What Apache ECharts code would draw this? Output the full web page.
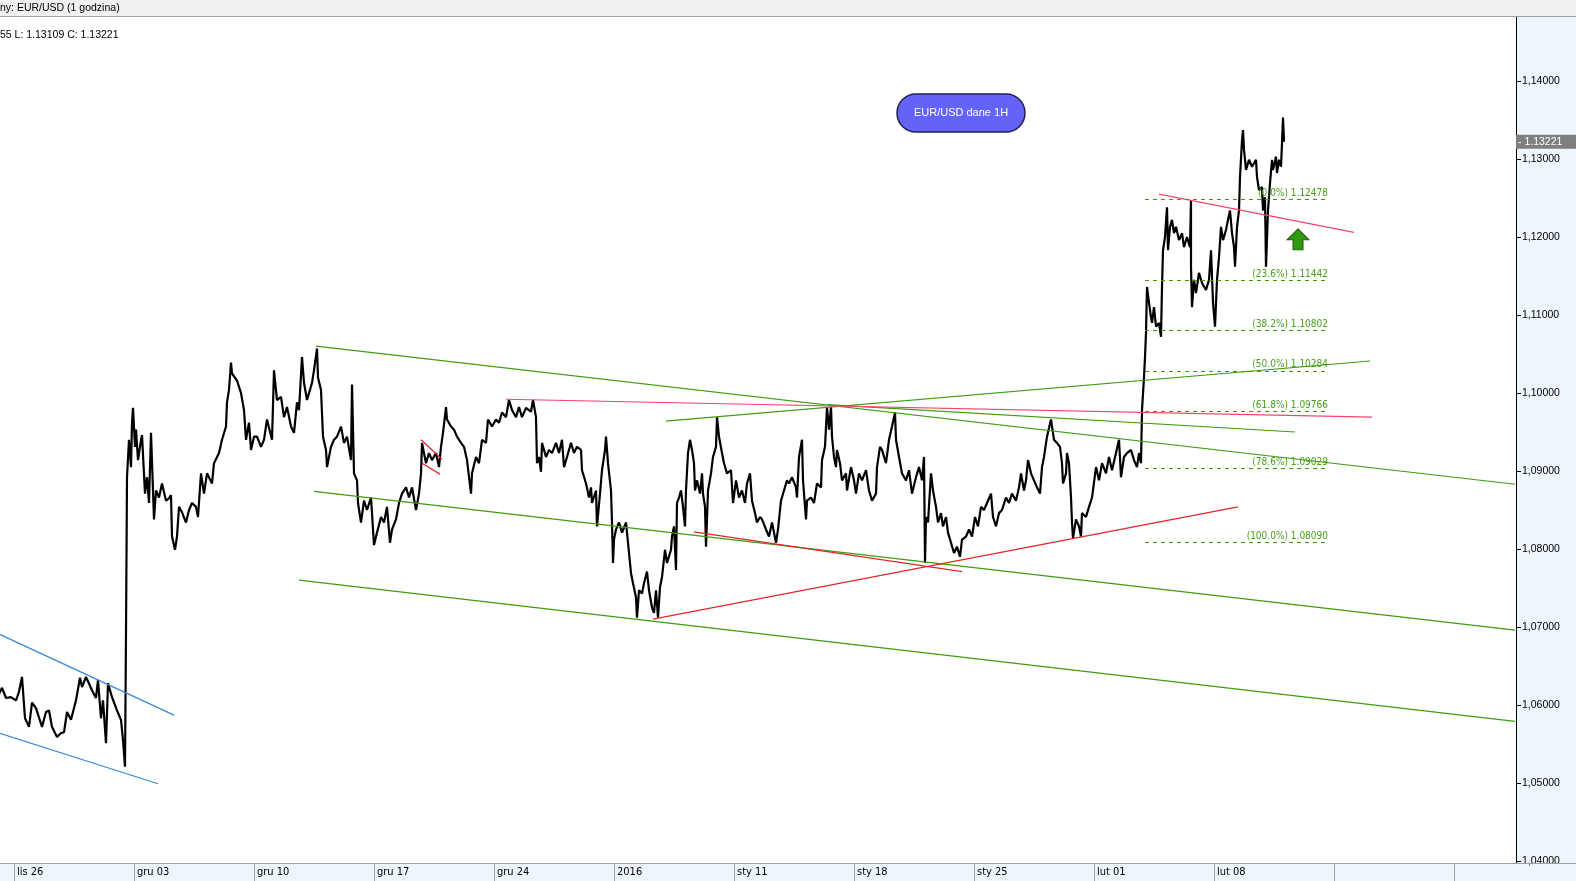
<!DOCTYPE html>
<html><head><meta charset="utf-8">
<script src="https://cdn.jsdelivr.net/npm/echarts@6/dist/echarts.min.js"></script>
<style>html,body{margin:0;padding:0;background:#fff}#c{width:1576px;height:881px}</style>
</head><body><div id="c"></div>
<script>
// ---- axis ticks / labels ----
const weekTicks = [0,120,240,360,480,600,720,840,960,1080,1200,1320,1440];
const weekLabels = ['lis 26','gru 03','gru 10','gru 17','gru 24','2016','sty 11','sty 18','sty 25','lut 01','lut 08','',''];
const priceTicks = [1.04,1.05,1.06,1.07,1.08,1.09,1.10,1.11,1.12,1.13,1.14];

// ---- EUR/USD 1H path: [bar index, price] ----
const eurusd = [
[-15,1.0614],[-12,1.0622],[-8,1.0609],[-3,1.0610],[2,1.0606],[5,1.0617],[8,1.0636],[11,1.0583],[15,1.0572],[18,1.0603],[22,1.0596],[25,1.0584],[28,1.0572],[32,1.0591],[35,1.0593],[38,1.0572],[43,1.0559],[47,1.0564],[50,1.0565],[53,1.0591],[57,1.0581],[62,1.0606],[66,1.0635],[68,1.0623],[72,1.0636],[78,1.0619],[82,1.0609],[84,1.0632],[87,1.0583],[89,1.0606],[92,1.0551],[94,1.0628],[98,1.0610],[103,1.0593],[107,1.0581],[109,1.0555],[111,1.0521],[112,1.0693],[113,1.0892],[115,1.0940],[117,1.0905],[118,1.0962],[119,1.0981],[121,1.0931],[122,1.0953],[124,1.0914],[127,1.0940],[128,1.0946],[131,1.0871],[133,1.0892],[135,1.0859],[137,1.0949],[138,1.0950],[140,1.0838],[142,1.0875],[145,1.0866],[148,1.0884],[152,1.0862],[155,1.0865],[157,1.0869],[158,1.0816],[161,1.0799],[163,1.0816],[165,1.0854],[168,1.0847],[172,1.0834],[175,1.0850],[178,1.0859],[182,1.0854],[184,1.0841],[187,1.0897],[190,1.0871],[193,1.0897],[198,1.0884],[200,1.0910],[205,1.0923],[208,1.0940],[212,1.0957],[213,1.0988],[215,1.1004],[217,1.1039],[218,1.1025],[223,1.1016],[227,1.1000],[230,1.0978],[232,1.0940],[235,1.0962],[237,1.0927],[240,1.0944],[243,1.0944],[247,1.0931],[250,1.0940],[253,1.0966],
[258,1.0940],[260,1.1029],[263,1.0991],[267,1.0995],[270,1.0969],[273,1.0982],[277,1.0957],[280,1.0949],[283,1.0988],[285,1.0978],[288,1.1046],[290,1.1013],[293,1.0991],[298,1.1013],[300,1.1029],[303,1.1057],[304,1.1020],[307,1.1004],[309,1.0944],[312,1.0927],[313,1.0905],[317,1.0931],[320,1.0940],[323,1.0944],[327,1.0957],[330,1.0936],[333,1.0944],[337,1.0914],[338,1.1011],[340,1.0897],[343,1.0888],[344,1.0859],[347,1.0834],[350,1.0862],[353,1.0850],[357,1.0866],[360,1.0805],[363,1.0821],[367,1.0841],[370,1.0834],[373,1.0854],[376,1.0808],[378,1.0825],[382,1.0838],[385,1.0859],[388,1.0871],[392,1.0879],[395,1.0866],[398,1.0879],[402,1.0850],[405,1.0871],[407,1.0897],[408,1.0936],[412,1.0910],[415,1.0923],[418,1.0914],[422,1.0923],[425,1.0905],[427,1.0931],[429,1.0949],[432,1.0982],[433,1.0966],[437,1.0957],[440,1.0953],[443,1.0944],[447,1.0936],[450,1.0931],[453,1.0914],[457,1.0871],[458,1.0897],[462,1.0918],[465,1.0910],[468,1.0940],[472,1.0936],[474,1.0966],[478,1.0957],[482,1.0966],[485,1.0962],[488,1.0975],[492,1.0969],[495,1.0991],[498,1.0978],[502,1.0969],[505,1.0982],[508,1.0969],[512,1.0981],[517,1.0976],[519,1.0991],[522,1.0969],
[523,1.0910],[525,1.0918],[527,1.0899],[528,1.0936],[532,1.0918],[535,1.0927],[538,1.0923],[542,1.0936],[545,1.0923],[548,1.0940],[550,1.0905],[553,1.0918],[557,1.0936],[560,1.0923],[563,1.0931],[567,1.0927],[568,1.0901],[572,1.0884],[575,1.0866],[577,1.0879],[578,1.0859],[582,1.0875],[583,1.0829],[586,1.0871],[588,1.0901],[591,1.0927],[592,1.0944],[594,1.0910],[597,1.0875],[598,1.0834],[599,1.0782],[600,1.0812],[602,1.0825],[605,1.0834],[608,1.0821],[612,1.0834],[614,1.0808],[617,1.0769],[619,1.0756],[622,1.0738],[623,1.0712],[625,1.0747],[628,1.0743],[630,1.0756],[633,1.0771],[635,1.0747],[638,1.0725],[640,1.0718],[642,1.0747],[644,1.0712],[646,1.0751],[648,1.0764],[651,1.0799],[653,1.0782],[657,1.0799],[658,1.0816],[660,1.0829],[662,1.0773],[663,1.0859],[665,1.0866],[667,1.0875],[669,1.0854],[671,1.0829],[672,1.0875],[674,1.0923],[676,1.0940],[678,1.0927],[680,1.0910],[681,1.0875],[683,1.0888],[686,1.0871],[688,1.0897],[689,1.0871],[691,1.0854],[692,1.0803],[694,1.0875],[697,1.0897],[699,1.0918],[702,1.0931],[703,1.0969],[705,1.0944],[708,1.0923],[710,1.0910],[713,1.0897],[717,1.0901],[719,1.0859],[722,1.0888],[725,1.0866],[728,1.0875],[731,1.0859],[733,1.0884],[736,1.0897],[738,1.0862],[741,1.0846],[743,1.0834],[746,1.0841],[748,1.0838],[752,1.0825],[755,1.0816],[758,1.0834],[762,1.0808],[764,1.0825],[767,1.0862],[770,1.0875],[773,1.0888],
[775,1.0884],[778,1.0892],[782,1.0879],[783,1.0866],[785,1.0918],[788,1.0940],[789,1.0888],[792,1.0838],[793,1.0862],[797,1.0866],[800,1.0859],[803,1.0884],[807,1.0879],[808,1.0914],[811,1.0931],[813,1.0982],[815,1.0953],[817,1.0982],[818,1.0944],[820,1.0918],[822,1.0905],[823,1.0927],[826,1.0910],[828,1.0888],[832,1.0897],[833,1.0875],[837,1.0905],[840,1.0888],[842,1.0871],[845,1.0897],[848,1.0888],[852,1.0901],[855,1.0875],[858,1.0862],[862,1.0871],[863,1.0905],[866,1.0931],[868,1.0927],[872,1.0910],[875,1.0940],[878,1.0957],[881,1.0975],[882,1.0940],[885,1.0918],[888,1.0897],[892,1.0888],[895,1.0901],[898,1.0871],[902,1.0892],[905,1.0905],[908,1.0888],[910,1.0918],[911,1.0782],[912,1.0841],[914,1.0834],[917,1.0897],[919,1.0875],[922,1.0854],[924,1.0834],[927,1.0846],[929,1.0829],[932,1.0841],[934,1.0821],[937,1.0808],[940,1.0795],[943,1.0803],[946,1.0790],[948,1.0812],[952,1.0816],[955,1.0825],[958,1.0816],[961,1.0841],[964,1.0829],[967,1.0854],[970,1.0850],[973,1.0859],[977,1.0871],[979,1.0841],[982,1.0829],[985,1.0846],[988,1.0850],[992,1.0866],[995,1.0859],[998,1.0871],[1002,1.0862],[1005,1.0879],[1007,1.0897],[1010,1.0875],[1012,1.0888],[1014,1.0914],[1017,1.0897],[1020,1.0888],[1023,1.0879],[1026,1.0871],[1028,1.0905],[1030,1.0918],[1033,1.0944],[1037,1.0966],[1040,1.0940],[1043,1.0936],
[1046,1.0931],[1048,1.0910],[1049,1.0884],[1052,1.0897],[1053,1.0923],[1055,1.0910],[1057,1.0866],[1058,1.0834],[1059,1.0814],[1062,1.0838],[1065,1.0829],[1067,1.0816],[1068,1.0846],[1072,1.0841],[1075,1.0854],[1078,1.0866],[1082,1.0905],[1085,1.0888],[1088,1.0910],[1092,1.0897],[1095,1.0918],[1098,1.0901],[1102,1.0923],[1105,1.0940],[1107,1.0892],[1110,1.0918],[1113,1.0923],[1117,1.0927],[1120,1.0914],[1123,1.0905],[1125,1.0923],[1127,1.0910],[1128,1.0978],[1130,1.1020],[1131,1.1046],[1132,1.1077],[1133,1.1136],[1135,1.1116],[1137,1.1097],[1138,1.1090],[1140,1.1110],[1142,1.1085],[1145,1.1090],[1147,1.1072],[1148,1.1136],[1149,1.1183],[1151,1.1200],[1153,1.1238],[1154,1.1183],[1156,1.1213],[1158,1.1222],[1160,1.1205],[1162,1.1213],[1165,1.1196],[1168,1.1205],[1170,1.1187],[1173,1.1200],[1176,1.1187],[1177,1.1247],[1177,1.1162],[1178,1.1110],[1180,1.1145],[1182,1.1128],[1185,1.1154],[1188,1.1141],[1192,1.1132],[1195,1.1145],[1197,1.1183],[1199,1.1116],[1201,1.1085],[1203,1.1145],[1205,1.1174],[1207,1.1213],[1209,1.1196],[1212,1.1209],[1214,1.1222],[1216,1.1234],[1218,1.1205],[1220,1.1187],[1221,1.1162],[1223,1.1213],[1225,1.1234],[1226,1.1277],[1228,1.1324],[1229,1.1337],[1230,1.1312],[1232,1.1286],[1235,1.1299],[1238,1.1290],[1242,1.1299],[1243,1.1277],[1245,1.1260],[1248,1.1264],[1249,1.1234],[1251,1.1251],[1252,1.1162],[1254,1.1234],[1256,1.1269],[1258,1.1299],[1259,1.1286],[1262,1.1303],[1263,1.1282],[1265,1.1299],[1267,1.1290],[1268,1.1320],[1269,1.1353],[1270,1.13221]
];
const lastClose = 1.13221;
const lowValue = 1.13109;

// ---- Fibonacci retracement ----
const fibLevels = ['0.0','23.6','38.2','50.0','61.8','78.6','100.0'];
const fibPrices = [1.12478,1.11442,1.10802,1.10284,1.09766,1.09029,1.08090];
const fibSpan = [1131,1315];

// ---- trend lines: [[bar, price],[bar, price]] ----
const greenLines = [
  [[302,1.1060],[1501,1.0883]],
  [[814,1.0985],[1281,1.0950]],
  [[652,1.0964],[1356,1.1041]],
  [[300,1.0874],[1501,1.0696]],
  [[285,1.0760],[1501,1.0579]]
];
const blueLines = [
  [[-15,1.0691],[160,1.0587]],
  [[-15,1.0564],[144,1.0499]]
];
const pinkLines = [
  [[492,1.0992],[1358,1.0969]],
  [[1145,1.1255],[1340,1.1206]]
];
const redLines = [
  [[639,1.0710],[1224,1.0854]],
  [[680,1.0822],[948,1.0771]],
  [[407,1.0940],[428,1.0915]],
  [[408,1.0910],[426,1.0896]]
];
const signalArrow = [1284,1.1197];

const narrow = "'Liberation Sans Narrow','DejaVu Sans Condensed','Liberation Sans',sans-serif";
const sans = "'Liberation Sans',Arial,sans-serif";
const X_MAX = 1502;

function segSeries(list, color, width) {
  return list.map(seg => ({
    type:'line', data:seg, showSymbol:false, symbol:'none', silent:true, z:4,
    lineStyle:{color:color, width:width}, animation:false
  }));
}

const chart = echarts.init(document.getElementById('c'));
chart.setOption({
  animation:false,
  backgroundColor:'#eef5fd',
  grid:{left:0, right:60, top:17, bottom:18, show:true, backgroundColor:'#ffffff', borderWidth:0},
  xAxis:{
    type:'value', min:-14, max:X_MAX,
    axisLine:{show:true, onZero:false, lineStyle:{color:'#a0a0a0', width:1}},
    axisTick:{show:true, customValues:weekTicks, length:18, inside:false, lineStyle:{color:'#a0a0a0'}},
    axisLabel:{customValues:weekTicks, formatter:v => { const i = weekTicks.indexOf(v); return i >= 0 ? weekLabels[i] : ''; },
      align:'left', margin:4, padding:[0,0,0,3], fontSize:11, fontFamily:narrow, color:'#000'},
    splitLine:{show:false}
  },
  yAxis:{
    type:'value', position:'right', min:1.039744, max:1.148205,
    axisLine:{show:true, onZero:false, lineStyle:{color:'#000', width:1}},
    axisTick:{show:true, customValues:priceTicks, length:5, inside:false, lineStyle:{color:'#000'}},
    axisLabel:{customValues:priceTicks, formatter:v => v.toFixed(5).replace('.', ','), margin:6, fontSize:10.5, fontFamily:sans, color:'#000'},
    splitLine:{show:false}
  },
  graphic:[
    {type:'rect', shape:{x:0,y:0,width:1576,height:16}, style:{fill:'#f0f0f0'}, z:100},
    {type:'line', shape:{x1:0,y1:16.5,x2:1576,y2:16.5}, style:{stroke:'#a0a0a0', lineWidth:1}, z:100},
    {type:'text', x:0, y:8, style:{text:'ny: EUR/USD (1 godzina)', fill:'#000', fontSize:10.5, fontFamily:sans, verticalAlign:'middle'}, z:101},
    {type:'text', x:0, y:35, style:{text:'55 L: ' + lowValue.toFixed(5) + ' C: ' + lastClose.toFixed(5), fill:'#000', fontSize:10.5, fontFamily:sans, verticalAlign:'middle'}, z:101},
    {type:'line', shape:{x1:1516,y1:863.5,x2:1576,y2:863.5}, style:{stroke:'#a0a0a0', lineWidth:1}, z:100},
    {type:'rect', shape:{x:897,y:94,width:128,height:38,r:19}, style:{fill:'#6363f5', stroke:'#20205a', lineWidth:1.5}, z:100},
    {type:'text', x:961, y:113, style:{text:'EUR/USD dane 1H', fill:'#ffffff', fontSize:11, fontFamily:sans, align:'center', verticalAlign:'middle'}, z:101}
  ],
  series:[
    {type:'line', name:'EUR/USD', data:eurusd, showSymbol:false, symbol:'none', silent:true, z:3,
     lineStyle:{color:'#000', width:2.2}},
    ...segSeries(greenLines, '#3f9c10', 1.2),
    ...segSeries(blueLines, '#3a88d8', 1.2),
    ...segSeries(pinkLines, '#f0456f', 1.2),
    ...segSeries(redLines, '#e2262b', 1.2),
    {type:'line', name:'fib', data:[], silent:true, z:5,
     markLine:{symbol:['none','none'], silent:true, animation:false,
       lineStyle:{color:'#3c9c00', type:[4,4], width:1},
       label:{show:true, position:'insideEndTop', distance:1, color:'#48a018', fontSize:10, fontFamily:narrow, formatter:'{b}'},
       emphasis:{disabled:true},
       data:fibPrices.map((v,i) => [{coord:[fibSpan[0], v], name:'(' + fibLevels[i] + '%) ' + v.toFixed(5)}, {coord:[fibSpan[1], v]}])
     }},
    {type:'line', name:'marks', data:[], silent:true, clip:false, z:6,
     markPoint:{silent:true, animation:false,
       emphasis:{disabled:true},
       data:[
         {coord:signalArrow, symbol:'path://M11,0 L22,11 L16,11 L16,21 L6,21 L6,11 L0,11 Z', symbolSize:[22,21],
          itemStyle:{color:'#2f9a0f', borderColor:'#1d5e05', borderWidth:1}, label:{show:false}},
         {coord:[X_MAX, lastClose], symbol:'rect', symbolSize:[60,14], symbolOffset:[30,0],
          itemStyle:{color:'#7f7f7f', borderWidth:0},
          label:{show:true, position:'insideLeft', distance:2, formatter:'- ' + lastClose.toFixed(5), color:'#ffffff', fontSize:10.5, fontFamily:sans}}
       ]}
    }
  ]
});
</script></body></html>
